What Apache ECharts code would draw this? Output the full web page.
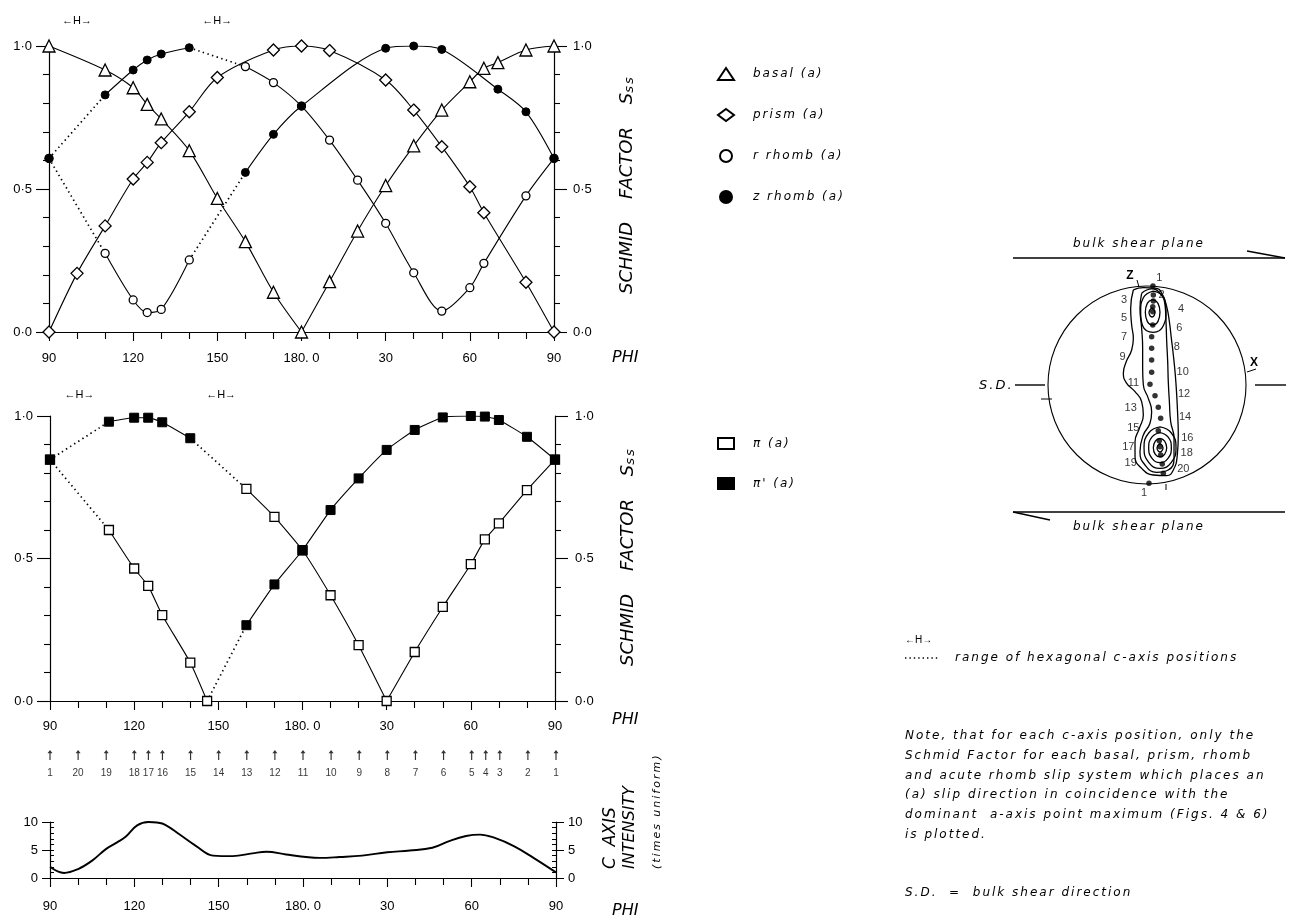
<!DOCTYPE html>
<html><head><meta charset="utf-8">
<script src="https://cdn.jsdelivr.net/npm/echarts@6/dist/echarts.min.js"></script>
<style>html,body{margin:0;padding:0;background:#fff}#c{width:1297px;height:918px}</style>
</head><body><div id="c"></div>
<script>
// ---------- DATA ----------
// x is the angular offset along the PHI profile (0..180); tick labels below
const phiTickLabels = ['90', '120', '150', '180. 0', '30', '60', '90'];

// Top panel (Schmid factor, a-slip)
const basal = [[0,1.0],[20,0.916],[30,0.854],[35,0.796],[40,0.745],[50,0.634],[60,0.467],[70,0.316],[80,0.139],[90,0],[100,0.176],[110,0.353],[120,0.512],[130,0.651],[140,0.776],[150,0.875],[155,0.922],[160,0.942],[170,0.986],[180,1.0]];
const prism = [[0,0],[10,0.205],[20,0.371],[30,0.535],[35,0.593],[40,0.662],[50,0.770],[60,0.890],[80,0.986],[90,1.0],[100,0.984],[120,0.881],[130,0.776],[140,0.648],[150,0.508],[155,0.417],[170,0.174],[180,0]];
const rRhomb = [[0,0.607],[20,0.275],[30,0.112],[35,0.068],[40,0.079],[50,0.252],[70,0.928],[80,0.872],[90,0.790],[100,0.671],[110,0.531],[120,0.380],[130,0.207],[140,0.073],[150,0.155],[155,0.240],[170,0.476],[180,0.607]];
const zRhomb = [[0,0.607],[20,0.829],[30,0.916],[35,0.951],[40,0.972],[50,0.994],[70,0.558],[80,0.691],[90,0.790],[120,0.992],[130,1.0],[140,0.988],[160,0.849],[170,0.770],[180,0.607]];
const topSwap = [50, 70];                 // curves exchange marker type across this range
const topDotted = [[0, 20], [50, 70]];    // hexagonal c-axis ranges
const topH = [10, 60];

// Middle panel (pi slip systems)
const pi = [[0,0.847],[21,0.600],[30,0.465],[35,0.404],[40,0.301],[50,0.135],[56,0],[70,0.744],[80,0.646],[90,0.529],[100,0.371],[110,0.196],[120,0],[130,0.172],[140,0.330],[150,0.480],[155,0.567],[160,0.623],[170,0.740],[180,0.847]];
const piPrime = [[0,0.847],[21,0.980],[30,0.994],[35,0.994],[40,0.978],[50,0.922],[70,0.266],[80,0.409],[90,0.529],[100,0.670],[110,0.781],[120,0.881],[130,0.951],[140,0.995],[150,1.0],[155,0.998],[160,0.986],[170,0.927],[180,0.847]];
const midSwapA = [56, 70];
const midSwapB = [50, 70];
const midDottedA = [[0, 21], [56, 70]];
const midDottedB = [[0, 21], [50, 70]];
const midH = [10.5, 61];

// c-axis positions 1..20 along the profile
const cPosT = [0,10,20,30,35,40,50,60,70,80,90,100,110,120,130,140,150,155,160,170,180];
const cPosLabels = ['1','20','19','18','17','16','15','14','13','12','11','10','9','8','7','6','5','4','3','2','1'];

// Bottom panel: c-axis intensity (times uniform)
const intensity = [[0,2.0],[5,0.9],[10,1.6],[15,3.1],[20,5.2],[24,6.4],[27,7.4],[31,9.4],[35,10.0],[38,9.9],[41,9.5],[46,7.8],[52,5.7],[58,4.0],[65,3.9],[72,4.4],[77,4.7],[84,4.2],[92,3.7],[96,3.6],[103,3.75],[111,4.0],[120,4.6],[128,4.9],[136,5.4],[142,6.6],[148,7.5],[153,7.75],[158,7.2],[165,5.7],[172,3.6],[180,1.0]];

// Stereonet (unit-circle coordinates)
const stereoDots = [[0.06,1.0],[0.064,0.909],[0.064,0.848],[0.058,0.791],[0.058,0.740],[0.058,0.606],[0.047,0.488],[0.047,0.370],[0.047,0.253],[0.047,0.128],[0.030,0.007],[0.081,-0.108],[0.114,-0.225],[0.138,-0.336],[0.114,-0.462],[0.124,-0.563],[0.131,-0.623],[0.138,-0.707],[0.154,-0.798],[0.165,-0.892],[0.02,-0.993]];
const stereoLabels = [[0.124,1.084,'1'],[0.148,0.909,'2'],[-0.232,0.859,'3'],[0.343,0.765,'4'],[-0.232,0.673,'5'],[0.327,0.579,'6'],[-0.232,0.488,'7'],[0.30,0.387,'8'],[-0.246,0.286,'9'],[0.36,0.135,'10'],[-0.138,0.017,'11'],[0.374,-0.094,'12'],[-0.165,-0.229,'13'],[0.384,-0.32,'14'],[-0.138,-0.431,'15'],[0.407,-0.532,'16'],[-0.189,-0.629,'17'],[0.401,-0.69,'18'],[-0.165,-0.791,'19'],[0.367,-0.848,'20'],[-0.03,-1.094,'1']];
const contourOuter = [[-0.138,0.96],[-0.165,0.774],[-0.155,0.606],[-0.138,0.471],[-0.155,0.354],[-0.212,0.229],[-0.239,0.118],[-0.205,0.017],[-0.121,-0.067],[-0.054,-0.168],[-0.037,-0.303],[-0.077,-0.438],[-0.121,-0.572],[-0.121,-0.724],[-0.054,-0.842],[0.064,-0.909],[0.199,-0.916],[0.266,-0.859],[0.306,-0.707],[0.316,-0.505],[0.31,-0.303],[0.30,-0.101],[0.286,0.101],[0.266,0.303],[0.246,0.471],[0.226,0.64],[0.199,0.791],[0.158,0.909],[0.098,0.976],[-0.037,0.983]];
const contourSecond = [[-0.054,0.926],[-0.071,0.774],[-0.054,0.572],[-0.044,0.37],[-0.044,0.168],[-0.037,0.0],[0.013,-0.135],[0.047,-0.269],[0.03,-0.387],[-0.037,-0.505],[-0.071,-0.673],[-0.02,-0.808],[0.098,-0.882],[0.215,-0.859],[0.273,-0.741],[0.273,-0.539],[0.239,-0.37],[0.226,-0.168],[0.215,0.034],[0.209,0.236],[0.199,0.438],[0.192,0.64],[0.182,0.808],[0.131,0.926],[0.047,0.97]];
const contourT1 = [[0.064,0.949],[0.172,0.882],[0.192,0.741],[0.165,0.599],[0.064,0.532],[-0.044,0.599],[-0.064,0.741],[-0.037,0.882]];
const contourT2 = [[0.057,0.862],[0.111,0.825],[0.131,0.734],[0.111,0.643],[0.057,0.606],[0.003,0.643],[-0.017,0.734],[0.003,0.825]];
const contourT3 = [[0.051,0.781],[0.081,0.734],[0.051,0.687],[0.02,0.734]];
const contourB1 = [[0.131,-0.424],[0.246,-0.485],[0.293,-0.633],[0.246,-0.781],[0.131,-0.842],[0.017,-0.781],[-0.03,-0.633],[0.017,-0.485]];
const contourB2 = [[0.131,-0.481],[0.212,-0.525],[0.246,-0.633],[0.212,-0.741],[0.131,-0.785],[0.051,-0.741],[0.017,-0.633],[0.051,-0.525]];
const contourB3 = [[0.131,-0.539],[0.178,-0.566],[0.199,-0.633],[0.178,-0.70],[0.131,-0.727],[0.084,-0.70],[0.064,-0.633],[0.084,-0.566]];
const contourB4 = [[0.131,-0.589],[0.162,-0.633],[0.131,-0.677],[0.101,-0.633]];

const noteLines = [
  'Note, that for each c-axis position, only the',
  'Schmid Factor for each basal, prism, rhomb',
  'and acute rhomb slip system which places an',
  '(a) slip direction in coincidence with the',
  'dominant  a-axis point maximum (Figs. 4 & 6)',
  'is plotted.'
];

// ---------- letter spacing for small italic (lettered) texts ----------
(function(){
  const p = CanvasRenderingContext2D.prototype;
  const of = p.fillText;
  p.fillText = function(...a){
    try {
      if ('letterSpacing' in this) {
        const m = /italic.*?(\d+(?:\.\d+)?)px/.exec(this.font);
        this.letterSpacing = (m && parseFloat(m[1]) <= 13) ? '2px' : '0px';
      }
    } catch(e) {}
    return of.apply(this, a);
  };
})();

// ---------- LAYOUT ----------
const G = [
  {left:49, top:46, width:505, height:286},
  {left:50, top:416, width:505, height:285},
  {left:50, top:822, width:506, height:56},
  {left:50, top:745, width:506, height:20},
  {left:998.5, top:236.5, width:297, height:297}
];
const BLACK = '#000';
const ITAL = 'DejaVu Sans';
const NUMF = 'Liberation Sans';

function px(g, t){ return G[g].left + t/180*G[g].width; }

function phiAxis(g, margin){
  return {type:'value', gridIndex:g, min:0, max:180, interval:30, position:'bottom',
    axisLine:{show:true, onZero:false, lineStyle:{color:BLACK, width:1.2}},
    axisTick:{show:true, length:9, lineStyle:{color:BLACK, width:1.1}},
    minorTick:{show:true, splitNumber:3, length:7, lineStyle:{color:BLACK, width:1.1}},
    splitLine:{show:false}, minorSplitLine:{show:false},
    axisLabel:{margin, color:BLACK, fontFamily:NUMF, fontSize:13, formatter:v => phiTickLabels[Math.round(v/30)]}};
}
function schmidAxis(g, pos, margin){
  return {type:'value', gridIndex:g, position:pos, min:0, max:1, interval:0.5,
    axisLine:{show:true, onZero:false, lineStyle:{color:BLACK, width:1.2}},
    axisTick:{show:true, length:13, lineStyle:{color:BLACK, width:1.1}},
    minorTick:{show:true, splitNumber:5, length:6, lineStyle:{color:BLACK, width:1.1}},
    splitLine:{show:false}, minorSplitLine:{show:false},
    axisLabel:{margin, color:BLACK, fontFamily:NUMF, fontSize:13, formatter:v => v.toFixed(1).replace('.', '·')}};
}
function intAxisMajor(pos){
  return {type:'value', gridIndex:2, position:pos, min:0, max:10, interval:5,
    axisLine:{show:true, onZero:false, lineStyle:{color:BLACK, width:1.2}},
    axisTick:{show:true, length:8, lineStyle:{color:BLACK}},
    splitLine:{show:false},
    axisLabel:{margin:12, color:BLACK, fontFamily:NUMF, fontSize:13}};
}
function intAxisMinor(pos){
  return {type:'value', gridIndex:2, position:pos, min:0, max:10, interval:1,
    axisLine:{show:false}, axisTick:{show:true, inside:true, length:4, lineStyle:{color:BLACK}},
    splitLine:{show:false}, axisLabel:{show:false}};
}

const solidLine = {color:BLACK, width:1.1, type:'solid'};
const dotLine = {color:BLACK, width:1.7, type:[1.4, 3.4]};

function buildCurve(first, second, swap){
  return first.filter(p => p[0] <= swap[0]).concat(second.filter(p => p[0] >= swap[1]));
}
function makeSegments(pts, dotted, xi, yi, smooth){
  const inDot = (a, b) => dotted.some(r => a[0] >= r[0] && b[0] <= r[1]);
  const segs = []; let cur = [pts[0]]; let curDot = null;
  for (let i = 1; i < pts.length; i++){
    const d = inDot(pts[i-1], pts[i]);
    const cusp = (i-1 > 0) && pts[i-1][1] === 0;
    if (curDot === null) curDot = d;
    if (d !== curDot || cusp){ segs.push({pts:cur, dot:curDot}); cur = [pts[i-1]]; curDot = d; }
    cur.push(pts[i]);
  }
  segs.push({pts:cur, dot:curDot});
  return segs.map(s => ({type:'line', xAxisIndex:xi, yAxisIndex:yi, data:s.pts, smooth:smooth,
    symbol:'none', silent:true, z:2, lineStyle:Object.assign({}, s.dot ? dotLine : solidLine)}));
}
function closed(arr){ return arr.concat([arr[0]]); }

const topA = buildCurve(rRhomb, zRhomb, topSwap);
const topB = buildCurve(zRhomb, rRhomb, topSwap);
const midA = buildCurve(pi, piPrime, midSwapA);
const midB = buildCurve(piPrime, pi, midSwapB);

const openStyle = {color:'#fff', borderColor:BLACK, borderWidth:1.3, opacity:1};
const fillStyle = {color:BLACK, borderColor:BLACK, borderWidth:1, opacity:1};

const series = [
  ...makeSegments(basal, [], 0, 0, 0.3),
  ...makeSegments(prism, [], 0, 0, 0.3),
  ...makeSegments(topA, topDotted, 0, 0, 0.3),
  ...makeSegments(topB, topDotted, 0, 0, 0.3),
  {name:'basal (a)', type:'scatter', xAxisIndex:0, yAxisIndex:0, data:basal, symbol:'triangle', symbolSize:12, itemStyle:openStyle, z:4, silent:true},
  {name:'prism (a)', type:'scatter', xAxisIndex:0, yAxisIndex:0, data:prism, symbol:'diamond', symbolSize:12, itemStyle:openStyle, z:4, silent:true},
  {name:'r rhomb (a)', type:'scatter', xAxisIndex:0, yAxisIndex:0, data:rRhomb, symbol:'circle', symbolSize:8, itemStyle:openStyle, z:4, silent:true},
  {name:'z rhomb (a)', type:'scatter', xAxisIndex:0, yAxisIndex:0, data:zRhomb, symbol:'circle', symbolSize:8, itemStyle:fillStyle, z:5, silent:true},

  ...makeSegments(midA, midDottedA, 1, 2, 0.15),
  ...makeSegments(midB, midDottedB, 1, 2, 0.15),
  {name:'π (a)', type:'scatter', xAxisIndex:1, yAxisIndex:2, data:pi, symbol:'rect', symbolSize:9, itemStyle:openStyle, z:4, silent:true},
  {name:"π' (a)", type:'scatter', xAxisIndex:1, yAxisIndex:2, data:piPrime, symbol:'rect', symbolSize:9, itemStyle:fillStyle, z:5, silent:true},

  {type:'line', xAxisIndex:2, yAxisIndex:4, data:intensity, smooth:0.4, symbol:'none', silent:true, lineStyle:{color:BLACK, width:1.9}},

  {type:'scatter', xAxisIndex:3, yAxisIndex:8, silent:true,
   data:cPosT.map((t, i) => [t, 0.5, cPosLabels[i]]),
   symbol:'path://M3,0 L6,4 L3.7,4 L3.7,12 L2.3,12 L2.3,4 L0,4 Z', symbolSize:[5,10],
   itemStyle:{color:BLACK},
   label:{show:true, position:'bottom', distance:8, color:BLACK, fontFamily:NUMF, fontSize:10, formatter:p => p.data[2]}},

  ...[contourOuter, contourSecond, contourT1, contourT2, contourT3, contourB1, contourB2, contourB3, contourB4].map(c => ({
    type:'line', xAxisIndex:4, yAxisIndex:9, data:closed(c), smooth:0.5, symbol:'none', silent:true, clip:false,
    lineStyle:{color:BLACK, width:1.3}})),
  {type:'scatter', xAxisIndex:4, yAxisIndex:9, data:stereoDots, symbol:'circle', symbolSize:5.5, itemStyle:{color:BLACK}, silent:true, z:5},
  {type:'scatter', xAxisIndex:4, yAxisIndex:9, data:stereoLabels, symbol:'circle', symbolSize:1, itemStyle:{color:'rgba(0,0,0,0)'}, silent:true, z:5,
   label:{show:true, position:'inside', color:BLACK, fontFamily:NUMF, fontSize:11, formatter:p => p.data[2]}}
];

// ---------- GRAPHIC ANNOTATIONS ----------
function txt(x, y, text, o){
  o = o || {};
  return {type:'text', x:x, y:y, rotation:o.rot || 0, silent:true,
    style:{text:text, x:0, y:0, fill:BLACK, align:o.align || 'left', verticalAlign:o.va || 'middle',
      font:o.font || ('italic 12px ' + ITAL), lineHeight:o.lh, rich:o.rich}};
}
function ln(x1, y1, x2, y2, w, dash){
  return {type:'line', silent:true, shape:{x1, y1, x2, y2}, style:{stroke:BLACK, lineWidth:w || 1.2, lineDash:dash || null}};
}
const nameRich = {a:{fontFamily:ITAL, fontStyle:'italic', fontSize:18, fill:BLACK}, b:{fontFamily:ITAL, fontStyle:'italic', fontSize:13, fill:BLACK, verticalAlign:'bottom'}};
const graphics = [
  ...topH.map(t => txt(px(0, t), 21, '←H→', {align:'center', font:'11px ' + NUMF})),
  ...midH.map(t => txt(px(1, t), 395, '←H→', {align:'center', font:'11px ' + NUMF})),
  txt(627, 294, '{a|SCHMID    FACTOR    S}{b|ss}', {rot:Math.PI/2, rich:nameRich}),
  txt(628, 666, '{a|SCHMID    FACTOR    S}{b|ss}', {rot:Math.PI/2, rich:nameRich}),
  txt(612, 358, 'PHI', {font:'italic 16px ' + ITAL}),
  txt(612, 720, 'PHI', {font:'italic 16px ' + ITAL}),
  txt(612, 911, 'PHI', {font:'italic 16px ' + ITAL}),
  txt(611, 869, 'C  AXIS', {rot:Math.PI/2, font:'italic 17px ' + ITAL}),
  txt(630, 869, 'INTENSITY', {rot:Math.PI/2, font:'italic 16px ' + ITAL}),
  txt(657, 869, '(times uniform)', {rot:Math.PI/2, font:'italic 11px ' + ITAL}),

  // stereonet frame
  {type:'circle', silent:true, shape:{cx:1147, cy:385, r:99}, style:{fill:null, stroke:BLACK, lineWidth:1.1}},
  txt(1073, 244, 'bulk shear plane'),
  ln(1013, 258, 1285, 258, 1.6), ln(1247, 251, 1285, 258, 1.3),
  txt(1073, 527, 'bulk shear plane'),
  ln(1013, 512, 1285, 512, 1.6), ln(1013, 512, 1050, 520, 1.3),
  txt(979, 386, 'S.D.', {font:'italic 13px ' + ITAL}),
  ln(1015, 385, 1045, 385, 1.4), ln(1255, 385, 1286, 385, 1.4),
  ln(1041, 399, 1052, 399, 1), ln(1247, 372, 1256, 369, 1),
  ln(1137, 280, 1139, 287, 1), ln(1166, 484, 1166, 490, 1),
  txt(1130, 276, 'Z', {align:'center', font:'bold 12px ' + NUMF}),
  txt(1254, 363, 'X', {align:'center', font:'bold 12px ' + NUMF}),

  // notes
  txt(905, 640, '←H→', {font:'10px ' + NUMF}),
  ln(905, 658, 938, 658, 1.6, [1.4, 3]),
  txt(955, 658, 'range of hexagonal c-axis positions'),
  txt(905, 726, noteLines.join('\n'), {va:'top', lh:19.8}),
  txt(905, 893, 'S.D.  =  bulk shear direction')
];

// ---------- OPTION ----------
const legendText = {fontFamily:ITAL, fontStyle:'italic', fontSize:12, color:BLACK, padding:[0,0,0,14]};
const option = {
  animation:false,
  backgroundColor:'#fff',
  grid:G.map(g => Object.assign({containLabel:false, outerBoundsMode:'none'}, g)),
  xAxis:[
    phiAxis(0, 20), phiAxis(1, 19), phiAxis(2, 22),
    {type:'value', gridIndex:3, min:0, max:180, show:false},
    {type:'value', gridIndex:4, min:-1.5, max:1.5, show:false}
  ],
  yAxis:[
    schmidAxis(0, 'left', 17), schmidAxis(0, 'right', 19),
    schmidAxis(1, 'left', 17), schmidAxis(1, 'right', 20),
    intAxisMajor('left'), intAxisMajor('right'),
    intAxisMinor('left'), intAxisMinor('right'),
    {type:'value', gridIndex:3, min:0, max:1, show:false},
    {type:'value', gridIndex:4, min:-1.5, max:1.5, show:false}
  ],
  legend:[
    {data:['basal (a)','prism (a)','r rhomb (a)','z rhomb (a)'], orient:'vertical', left:712, top:62,
     itemGap:27, itemWidth:16, itemHeight:12, selectedMode:false, textStyle:legendText},
    {data:['π (a)', "π' (a)"], orient:'vertical', left:712, top:432,
     itemGap:27, itemWidth:16, itemHeight:11, selectedMode:false, textStyle:legendText}
  ],
  series:series,
  graphic:graphics
};
const chart = echarts.init(document.getElementById('c'), null, {renderer:'canvas'});
chart.setOption(option);
</script></body></html>
